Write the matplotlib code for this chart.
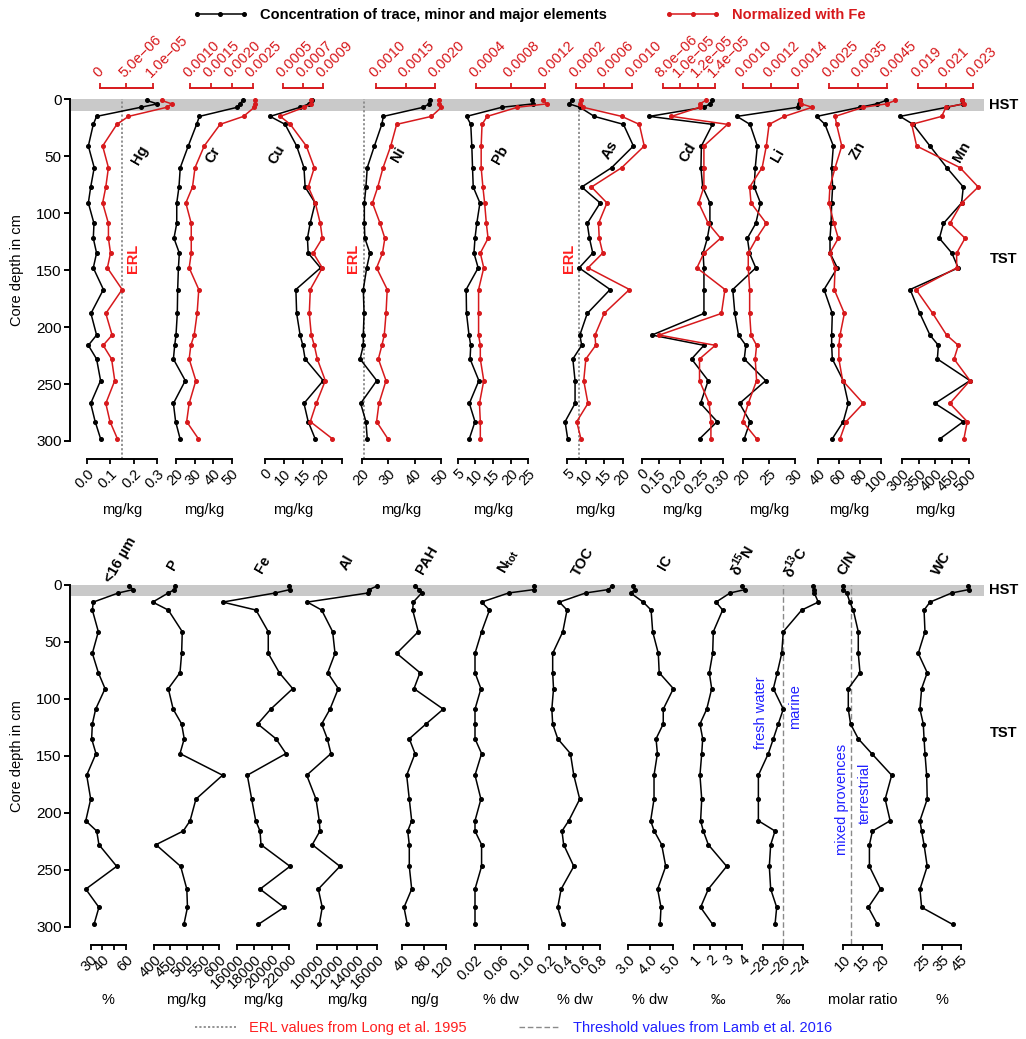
import matplotlib
matplotlib.use('Agg')
import matplotlib.pyplot as plt
from matplotlib.lines import Line2D
from matplotlib.transforms import blended_transform_factory

plt.rcParams['font.family'] = ['Liberation Sans', 'DejaVu Sans']
plt.rcParams['mathtext.fontset'] = 'custom'
plt.rcParams['mathtext.rm'] = 'Liberation Sans'
plt.rcParams['mathtext.bf'] = 'Liberation Sans:bold'
plt.rcParams['axes.linewidth'] = 1.4

# sample depths in cm
depth = [1, 4, 7, 15, 22, 41, 60, 77, 91, 109, 122, 135, 148, 167, 188, 207, 216, 228, 247, 267, 283, 298]

# trace, minor and major elements (mg/kg) and the same normalised with Fe
hg = [0.255, 0.30, 0.23, 0.042, 0.028, 0.007, 0.032, 0.017, 0.007, 0.031, 0.028, 0.042, 0.028, 0.071, 0.018, 0.042, 0.007, 0.042, 0.059, 0.017, 0.036, 0.059]
hg_fe = [11.7e-6, 13.6e-6, 12.7e-6, 5.4e-6, 3.2e-6, 0.5e-6, 1.6e-6, 1.1e-6, 0.5e-6, 1.6e-6, 1.6e-6, 2.0e-6, 1.4e-6, 4.2e-6, 1.1e-6, 2.3e-6, 0.6e-6, 2.2e-6, 2.8e-6, 1.1e-6, 1.9e-6, 3.3e-6]
cr = [55.9, 54.5, 53.0, 32.6, 31.1, 26.6, 22.3, 21.6, 20.4, 20.4, 18.9, 21.8, 21.3, 20.9, 20.7, 20.0, 19.3, 18.6, 25.0, 18.6, 19.8, 22.2]
cr_fe = [0.00256, 0.00256, 0.00254, 0.00228, 0.00172, 0.00134, 0.00112, 0.00106, 0.00090, 0.00103, 0.00103, 0.00103, 0.00098, 0.00121, 0.00117, 0.00110, 0.00102, 0.00098, 0.00114, 0.00098, 0.00092, 0.00120]
cu = [17.2, 16.5, 14.2, 6.4, 10.3, 13.3, 15.2, 15.5, 18.1, 16.8, 16.1, 16.3, 19.5, 13.1, 13.3, 14.2, 14.9, 15.5, 20.2, 15.2, 16.3, 18.1]
cu_fe = [0.00078, 0.00078, 0.00071, 0.00047, 0.00057, 0.00073, 0.00081, 0.00075, 0.00082, 0.00087, 0.00089, 0.00080, 0.00089, 0.00077, 0.00076, 0.00078, 0.00081, 0.00084, 0.00092, 0.00083, 0.00077, 0.00099]
ni = [45.8, 45.5, 43.3, 28.2, 27.6, 24.8, 22.1, 21.6, 21.0, 21.0, 21.2, 23.1, 21.9, 20.6, 20.9, 20.6, 20.6, 19.4, 25.7, 19.6, 21.6, 22.1]
ni_fe = [0.00207, 0.00207, 0.00211, 0.00194, 0.00135, 0.00125, 0.00112, 0.00103, 0.00094, 0.00107, 0.00115, 0.00111, 0.00101, 0.00119, 0.00117, 0.00114, 0.00110, 0.00104, 0.00117, 0.00105, 0.00101, 0.00120]
pb = [26.0, 26.4, 17.5, 7.5, 8.7, 9.0, 9.2, 9.4, 11.3, 10.4, 9.9, 9.6, 10.8, 7.4, 7.5, 8.2, 8.7, 8.5, 11.0, 8.3, 9.9, 8.3]
pb_fe = [0.00118, 0.00122, 0.00088, 0.00053, 0.00047, 0.00046, 0.00046, 0.00048, 0.00050, 0.00052, 0.00054, 0.00045, 0.00049, 0.00043, 0.00043, 0.00043, 0.00045, 0.00045, 0.00049, 0.00044, 0.00045, 0.00045]
as_ = [6.2, 5.5, 8.4, 12.3, 20.2, 22.9, 17.0, 8.9, 13.9, 10.4, 11.0, 11.9, 8.2, 16.6, 10.4, 8.4, 8.9, 6.5, 7.1, 7.1, 4.4, 5.1]
as_fe = [0.00027, 0.00026, 0.00030, 0.00085, 0.00110, 0.00117, 0.00085, 0.00042, 0.00064, 0.00052, 0.00053, 0.00058, 0.00037, 0.00096, 0.00060, 0.00047, 0.00048, 0.00034, 0.00031, 0.00037, 0.00021, 0.00027]
cd = [0.276, 0.270, 0.256, 0.128, 0.276, 0.250, 0.249, 0.253, 0.270, 0.270, 0.264, 0.254, 0.256, 0.256, 0.256, 0.134, 0.256, 0.227, 0.266, 0.248, 0.287, 0.246]
cd_fe = [12.9e-6, 12.25e-6, 12.2e-6, 9.0e-6, 15.4e-6, 12.7e-6, 12.7e-6, 12.7e-6, 12.1e-6, 13.2e-6, 14.6e-6, 12.7e-6, 11.9e-6, 15.1e-6, 14.7e-6, 7.6e-6, 14.0e-6, 12.2e-6, 12.2e-6, 13.3e-6, 13.5e-6, 13.5e-6]
li = [31.0, 30.8, 30.5, 18.9, 21.4, 22.8, 22.4, 22.2, 23.4, 22.5, 20.9, 21.3, 22.5, 18.1, 18.5, 19.2, 20.6, 20.3, 24.4, 19.4, 21.4, 20.3]
li_fe = [0.00141, 0.00142, 0.00150, 0.00130, 0.00119, 0.00117, 0.00114, 0.00105, 0.00106, 0.00117, 0.00110, 0.00104, 0.00104, 0.00105, 0.00105, 0.00106, 0.00110, 0.00109, 0.00110, 0.00104, 0.00100, 0.00110]
zn = [104.8, 95.9, 79.9, 38.5, 46.4, 54.4, 52.8, 53.7, 52.8, 52.2, 51.2, 51.2, 58.2, 45.5, 53.4, 52.8, 52.8, 53.4, 63.9, 68.7, 63.9, 53.4]
zn_fe = [0.00477, 0.00448, 0.00367, 0.00270, 0.00275, 0.00293, 0.00270, 0.00252, 0.00249, 0.00266, 0.00281, 0.00252, 0.00270, 0.00267, 0.00302, 0.00287, 0.00283, 0.00283, 0.00296, 0.00367, 0.00308, 0.00287]
mn = [478, 483, 434, 295, 334, 384, 434, 483, 478, 424, 412, 449, 468, 325, 354, 384, 409, 406, 503, 399, 483, 414]
mn_fe = [0.02216, 0.02232, 0.02101, 0.02070, 0.01852, 0.01888, 0.02203, 0.02336, 0.02216, 0.02130, 0.02240, 0.02179, 0.02179, 0.01883, 0.02005, 0.02106, 0.02191, 0.02160, 0.02276, 0.02130, 0.02256, 0.02232]

# sediment parameters (lower panel)
fine = [62.8, 66.2, 53.5, 32.2, 31.4, 36.5, 31.4, 36.5, 42.2, 34.2, 31.4, 30.8, 34.5, 26.6, 30.0, 25.8, 35.1, 37.0, 52.1, 25.8, 37.0, 32.8]
p = [465, 463, 444, 396, 444, 487, 485, 480, 444, 459, 485, 493, 480, 611, 529, 511, 490, 406, 482, 501, 503, 492]
fe = [22000, 22080, 20400, 14400, 18200, 19600, 19600, 20860, 22390, 19880, 18400, 20480, 21620, 17210, 17710, 18170, 18660, 18770, 22080, 18660, 21400, 18460]
al = [16000, 15250, 15120, 8990, 10440, 11550, 11790, 11050, 12120, 11280, 10440, 11010, 11380, 8930, 9870, 10200, 10270, 9490, 12290, 10100, 10500, 10200]
pah = [63.3, 71.1, 75.5, 60.1, 59.0, 69.3, 29.7, 72.4, 61.4, 115.0, 83.4, 52.8, 63.3, 48.0, 52.8, 57.2, 49.9, 52.8, 52.8, 57.2, 43.1, 49.2]
ntot = [0.110, 0.110, 0.071, 0.030, 0.042, 0.030, 0.020, 0.020, 0.029, 0.020, 0.020, 0.020, 0.030, 0.020, 0.029, 0.020, 0.020, 0.030, 0.030, 0.020, 0.020, 0.020]
toc = [0.94, 0.90, 0.63, 0.32, 0.41, 0.36, 0.24, 0.24, 0.25, 0.23, 0.24, 0.30, 0.45, 0.49, 0.56, 0.43, 0.35, 0.37, 0.49, 0.34, 0.30, 0.36]
ic = [3.25, 3.32, 3.13, 3.69, 4.04, 4.11, 4.36, 4.40, 5.03, 4.58, 4.58, 4.26, 4.32, 4.17, 4.17, 4.02, 4.18, 4.51, 4.69, 4.33, 4.48, 4.44]
d15n = [3.96, 4.17, 3.24, 2.37, 2.78, 2.20, 2.16, 1.95, 2.10, 1.79, 1.37, 1.54, 1.48, 1.37, 1.48, 1.41, 1.58, 1.89, 3.03, 1.89, 1.41, 2.16]
d13c = [-22.92, -22.85, -22.82, -22.42, -24.10, -25.97, -26.13, -26.58, -26.98, -25.97, -26.48, -26.98, -27.49, -28.50, -28.50, -28.50, -26.81, -27.25, -27.39, -27.25, -26.64, -26.81]
cn = [9.84, 10.0, 10.9, 11.7, 12.6, 13.9, 13.9, 14.35, 11.3, 11.3, 11.9, 13.9, 17.4, 22.6, 20.9, 22.2, 17.6, 16.8, 16.8, 19.7, 16.5, 18.9]
wc = [49.1, 49.4, 40.2, 28.6, 25.4, 25.9, 22.3, 27.1, 24.1, 23.2, 25.0, 25.4, 25.9, 26.8, 27.1, 23.2, 24.1, 25.4, 27.1, 23.2, 24.1, 40.7]

# reference values
erl = {'Hg': 0.15, 'Ni': 20.9, 'As': 8.2}
thr_d13c = -26
thr_cn = 12

W, H = 1026, 1039
RED = '#d7191c'
ERL_RED = '#ff1f1f'
BLUE = '#2020ff'
GREY = '#c9c9c9'

# layout: name, values, axis lo, hi, pixel x0, x1, ticks, tick labels, unit, name x/y
top_cols = [
    ('Hg', hg, 0, 0.3, 86.7, 157.3, [0, 0.1, 0.2, 0.3], ['0.0', '0.1', '0.2', '0.3'], 140, 155),
    ('Cr', cr, 20, 50, 176, 231.7, [20, 30, 40, 50], ['20', '30', '40', '50'], 213, 155),
    ('Cu', cu, 5, 25, 264.7, 341.7, [5, 10, 15, 20, 25], ['0', '10', '15', '20', ''], 277, 155),
    ('Ni', ni, 20, 50, 361.7, 441, [20, 30, 40, 50], ['20', '30', '40', '50'], 398, 155),
    ('Pb', pb, 5, 25, 457.7, 528.3, [5, 10, 15, 20, 25], ['5', '10', '15', '20', '25'], 500, 155),
    ('As', as_, 5, 20, 567.3, 622.7, [5, 10, 15, 20], ['5', '10', '15', '20'], 610, 150),
    ('Cd', cd, 0.11, 0.30, 641.7, 722.7, [0.11, 0.15, 0.20, 0.25, 0.30], ['0', '0.15', '0.20', '0.25', '0.30'], 688, 153),
    ('Li', li, 20, 30, 742.7, 795, [20, 25, 30], ['20', '25', '30'], 778, 155),
    ('Zn', zn, 40, 100, 818.3, 881, [40, 60, 80, 100], ['40', '60', '80', '100'], 858, 150),
    ('Mn', mn, 300, 500, 901.7, 969, [300, 350, 400, 450, 500], ['300', '350', '400', '450', '500'], 962, 152),
]
top_red = [
    (hg_fe, 0, 1e-5, 100, 152.7, [0, 5e-6, 1e-5], ['0', '5.0e−06', '1.0e−05']),
    (cr_fe, 0.001, 0.0025, 190, 252.7, [0.001, 0.0015, 0.002, 0.0025], ['0.0010', '0.0015', '0.0020', '0.0025']),
    (cu_fe, 0.0005, 0.0009, 283.3, 323.3, [0.0005, 0.0007, 0.0009], ['0.0005', '0.0007', '0.0009']),
    (ni_fe, 0.001, 0.002, 376, 435, [0.001, 0.0015, 0.002], ['0.0010', '0.0015', '0.0020']),
    (pb_fe, 0.0004, 0.0012, 476, 545, [0.0004, 0.0008, 0.0012], ['0.0004', '0.0008', '0.0012']),
    (as_fe, 0.0002, 0.001, 576, 632.3, [0.0002, 0.0006, 0.001], ['0.0002', '0.0006', '0.0010']),
    (cd_fe, 8e-6, 1.4e-5, 662.7, 715.3, [8e-6, 1e-5, 1.2e-5, 1.4e-5], ['8.0e−06', '1.0e−05', '1.2e−05', '1.4e−05']),
    (li_fe, 0.001, 0.0014, 742.7, 798.3, [0.001, 0.0012, 0.0014], ['0.0010', '0.0012', '0.0014']),
    (zn_fe, 0.0025, 0.0045, 829.3, 887.3, [0.0025, 0.0035, 0.0045], ['0.0025', '0.0035', '0.0045']),
    (mn_fe, 0.019, 0.023, 918.3, 973.3, [0.019, 0.021, 0.023], ['0.019', '0.021', '0.023']),
]
bot_cols = [
    ('<16 µm', fine, 30, 60, 90.7, 126, [30, 40, 50, 60], ['30', '40', '', '60'], '%', 120, 560),
    ('P', p, 400, 600, 154, 219, [400, 450, 500, 550, 600], ['400', '450', '500', '550', '600'], 'mg/kg', 173, 565),
    ('Fe', fe, 16000, 22000, 236.7, 289.3, [16000, 18000, 20000, 22000], ['16000', '18000', '20000', '22000'], 'mg/kg', 263, 565),
    ('Al', al, 10000, 16000, 317.3, 376.7, [10000, 12000, 14000, 16000], ['10000', '12000', '14000', '16000'], 'mg/kg', 347, 563),
    ('PAH', pah, 40, 120, 402.3, 446, [40, 80, 120], ['40', '80', '120'], 'ng/g', 427, 560),
    ('N$_{\\mathbf{tot}}$', ntot, 0.02, 0.10, 475, 527.7, [0.02, 0.06, 0.10], ['0.02', '0.06', '0.10'], '% dw', 508, 562),
    ('TOC', toc, 0.2, 0.8, 549.3, 600, [0.2, 0.4, 0.6, 0.8], ['0.2', '0.4', '0.6', '0.8'], '% dw', 583, 562),
    ('IC', ic, 3.0, 5.0, 627.7, 672.7, [3.0, 4.0, 5.0], ['3.0', '4.0', '5.0'], '% dw', 665, 563),
    ('δ$^{\\mathbf{15}}$N', d15n, 1, 4, 694, 742.3, [1, 2, 3, 4], ['1', '2', '3', '4'], '‰', 742, 560),
    ('δ$^{\\mathbf{13}}$C', d13c, -28, -24, 763.3, 802.7, [-28, -26, -24], ['−28', '−26', '−24'], '‰', 795, 562),
    ('C/N', cn, 10, 20, 843.3, 881.7, [10, 15, 20], ['10', '15', '20'], 'molar ratio', 847, 563),
    ('WC', wc, 25, 45, 923.3, 960.7, [25, 35, 45], ['25', '35', '45'], '%', 942, 563),
]

fig = plt.figure(figsize=(W / 100, H / 100), dpi=100)


def px_axes(x0, x1, y0, y1):
    return fig.add_axes([x0 / W, 1 - y1 / H, (x1 - x0) / W, (y1 - y0) / H])


def frame(y0, y1, hst, tst):
    ax = px_axes(70, 984, y0, y1)
    ax.set_xlim(0, 1)
    ax.set_ylim(300, 0)
    ax.axhspan(0, 10, color=GREY, lw=0)
    for s in ['top', 'right', 'bottom']:
        ax.spines[s].set_visible(False)
    ax.set_xticks([])
    ax.set_yticks(range(0, 301, 50))
    ax.tick_params(axis='y', length=4, width=1.4, labelsize=11, pad=2)
    tr = ax.get_yaxis_transform()
    ax.text(1.006, hst, 'HST', transform=tr, fontweight='bold', fontsize=10.5, va='center')
    ax.text(1.006, tst, 'TST', transform=tr, fontweight='bold', fontsize=10.5, va='center')
    fig.text(17 / W, 1 - (y0 + y1) / 2 / H, 'Core depth in cm', rotation=90,
             ha='center', va='center', fontsize=10.5)


def column(y0, y1, lo, hi, x0, x1, ticks, labels, values, color, top):
    ax = px_axes(x0, x1, y0, y1)
    ax.set_xlim(lo, hi)
    ax.set_ylim(300, 0)
    ax.patch.set_visible(False)
    ax.set_yticks([])
    keep = 'top' if top else 'bottom'
    for s in ['left', 'right', 'top', 'bottom']:
        ax.spines[s].set_visible(s == keep)
    ax.spines[keep].set_color(color)
    ax.spines[keep].set_position(('outward', 8.4 if top else 13))
    ax.set_xticks(ticks)
    if top:
        ax.xaxis.tick_top()
        ax.set_xticklabels(labels, rotation=45, ha='left', va='bottom',
                           rotation_mode='anchor', color=color)
    else:
        ax.set_xticklabels(labels, rotation=45, ha='right', rotation_mode='anchor')
    ax.tick_params(axis='x', length=3.6, width=1.3, labelsize=10.5, pad=2, color=color)
    ax.plot(values, depth, color=color, lw=1.1, marker='o', ms=2.6, clip_on=False)
    return ax


def unit_label(ax, ticks, labels, unit, y):
    shown = [t for t, l in zip(ticks, labels) if l]
    tr = blended_transform_factory(ax.transData, fig.transFigure)
    ax.text((shown[0] + shown[-1]) / 2, 1 - y / H, unit, transform=tr,
            ha='center', va='center', fontsize=10.5)


# upper panel
T0, T1 = 99.3, 441
frame(T0, T1, 5, 140)
erl_dx = {'Hg': 7.7, 'Ni': -8, 'As': -7.5}
for (name, vals, lo, hi, x0, x1, ticks, labels, nx, ny) in top_cols:
    ax = column(T0, T1, lo, hi, x0, x1, ticks, labels, vals, 'k', False)
    unit_label(ax, ticks, labels, 'mg/kg', 510)
    fig.text(nx / W, 1 - ny / H, name, rotation=60, ha='center', va='center',
             fontweight='bold', fontsize=10.5)
    if name in erl:
        ax.axvline(erl[name], ymin=-0.054, ymax=1, color='#8a8a8a', lw=1.3,
                   ls=(0, (1.2, 1.2)), clip_on=False, zorder=1)
        ax.annotate('ERL', xy=(erl[name], 140), xytext=(erl_dx[name], 0),
                    textcoords='offset points', rotation=90, ha='center', va='center',
                    color=ERL_RED, fontweight='bold', fontsize=10.5)
for (vals, lo, hi, x0, x1, ticks, labels) in top_red:
    column(T0, T1, lo, hi, x0, x1, ticks, labels, vals, RED, True)

# lower panel
B0, B1 = 585, 926.7
frame(B0, B1, 4.4, 130)
for (name, vals, lo, hi, x0, x1, ticks, labels, unit, nx, ny) in bot_cols:
    ax = column(B0, B1, lo, hi, x0, x1, ticks, labels, vals, 'k', False)
    unit_label(ax, ticks, labels, unit, 1000)
    fig.text(nx / W, 1 - ny / H, name, rotation=60, ha='center', va='center',
             fontweight='bold', fontsize=10.5)
    if vals is d13c or vals is cn:
        thr = thr_d13c if vals is d13c else thr_cn
        ax.axvline(thr, ymin=-0.05, ymax=1, color='#8a8a8a', lw=1.0,
                   ls=(0, (4, 2)), clip_on=False, zorder=1)
        if vals is d13c:
            marks = [('fresh water', -15.5, 112), ('marine', 8.4, 107)]
        else:
            marks = [('mixed provences', -6.5, 188), ('terrestrial', 10, 183)]
        for txt, dx, dy in marks:
            ax.annotate(txt, xy=(thr, dy), xytext=(dx, 0), textcoords='offset points',
                        rotation=90, ha='center', va='center', color=BLUE, fontsize=10.5)

# legends
h_conc = Line2D([], [], color='k', lw=1.1, marker='o', ms=2.6)
h_norm = Line2D([], [], color=RED, lw=1.1, marker='o', ms=2.6)
fig.legend([h_conc, h_norm], ['Concentration of trace, minor and major elements', 'Normalized with Fe'],
           loc='center', bbox_to_anchor=(529 / W, 1 - 15 / H), ncol=2, frameon=False,
           numpoints=3, handlelength=3.8, handletextpad=0.8, columnspacing=4.0,
           prop={'weight': 'bold', 'size': 10.5}, labelcolor=['k', RED])
h_erl = Line2D([], [], color='#8a8a8a', lw=1.3, ls=(0, (1.2, 1.2)))
h_thr = Line2D([], [], color='#8a8a8a', lw=1.0, ls=(0, (4, 2)))
fig.legend([h_erl, h_thr], ['ERL values from Long et al. 1995', 'Threshold values from Lamb et al. 2016'],
           loc='center', bbox_to_anchor=(514 / W, 1 - 1028 / H), ncol=2, frameon=False,
           handlelength=2.8, handletextpad=0.9, columnspacing=3.6,
           prop={'size': 10.5}, labelcolor=[ERL_RED, BLUE])

fig.savefig('out.png', dpi=100)
